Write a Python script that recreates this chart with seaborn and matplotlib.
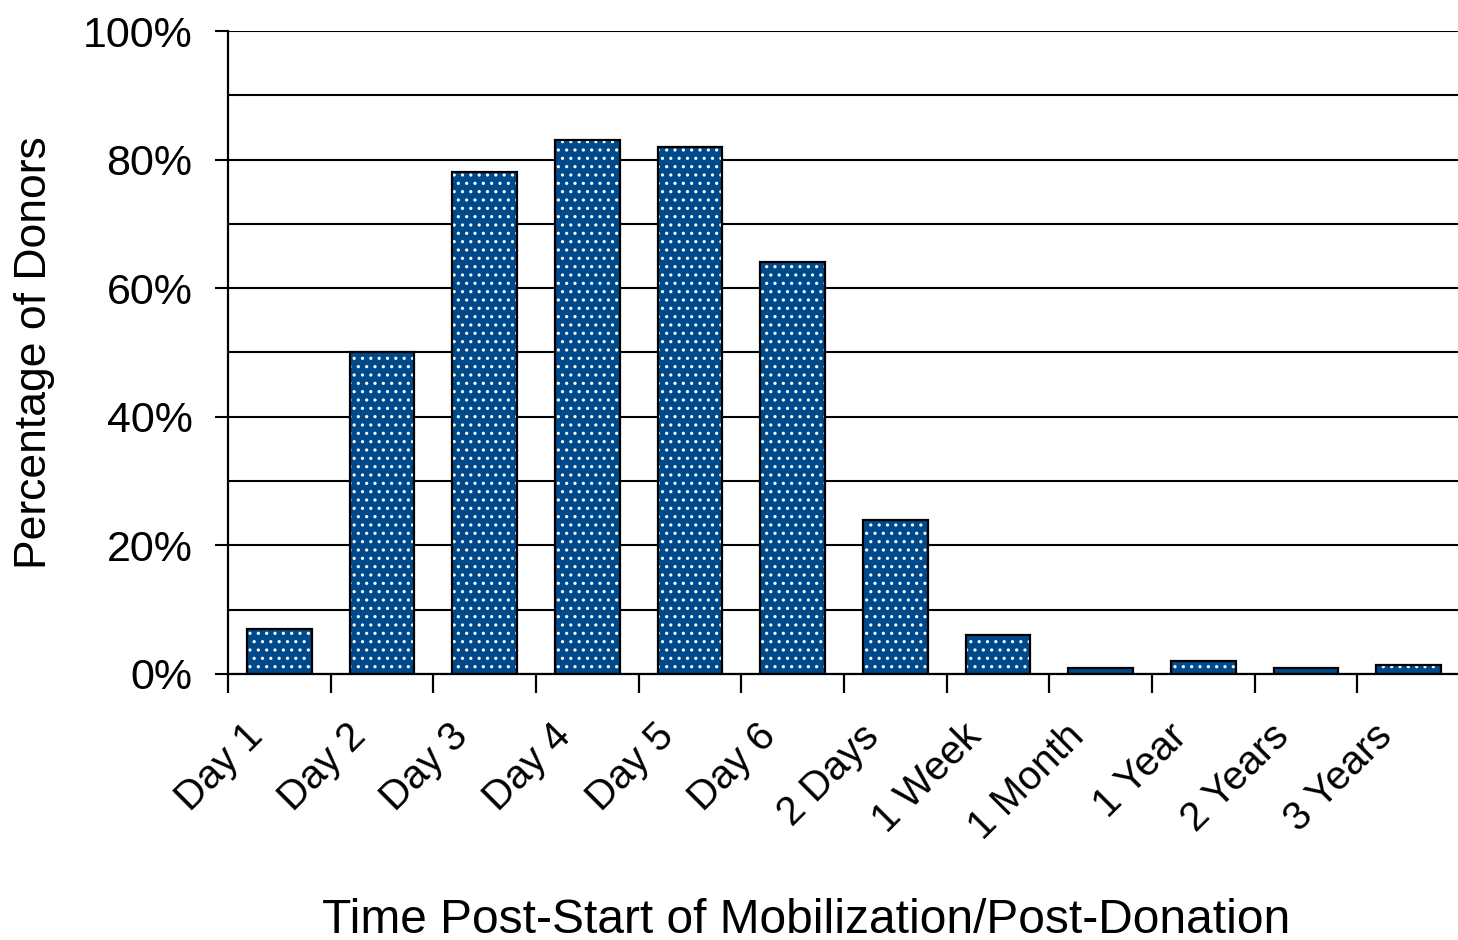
import matplotlib
matplotlib.use("Agg")
import matplotlib.pyplot as plt
from matplotlib.patches import Rectangle
from matplotlib.ticker import MultipleLocator, FixedLocator
from matplotlib.transforms import ScaledTranslation
import seaborn as sns
import pandas as pd

# Share of donors reporting symptoms at each time point
periods = ["Day 1", "Day 2", "Day 3", "Day 4", "Day 5", "Day 6",
           "2 Days", "1 Week", "1 Month", "1 Year", "2 Years", "3 Years"]
percent_donors = [7, 50, 78, 83, 82, 64, 24, 6, 1, 2, 1, 1.4]
y_ticks = [0, 20, 40, 60, 80, 100]
y_tick_labels = ["0%", "20%", "40%", "60%", "80%", "100%"]

df = pd.DataFrame({"period": periods, "pct": percent_donors})

sns.set_style("white")
plt.rcParams["font.family"] = ["Liberation Sans", "DejaVu Sans"]
plt.rcParams["hatch.linewidth"] = 1.1
for key in ["text.color", "axes.labelcolor", "xtick.color", "ytick.color"]:
    plt.rcParams[key] = "black"

fig = plt.figure(figsize=(14.58, 9.40), dpi=100)
ax = fig.add_axes([0.1564, 0.283, 0.845, 0.684])

bar_blue = "#004a8c"
sns.barplot(data=df, x="period", y="pct", order=periods, color=bar_blue,
            width=0.63, saturation=1, ax=ax, zorder=2)

# dotted fill in white, then a black outline on top of every bar
for p in list(ax.patches):
    p.set_hatch("..")
    p.set_edgecolor("white")
    p.set_linewidth(0)
    ax.add_patch(Rectangle((p.get_x(), p.get_y()), p.get_width(), p.get_height(),
                           fill=False, edgecolor="black", linewidth=1.6, zorder=3))

ax.set_xlim(-0.5, 11.5)
ax.set_ylim(0, 100)

# horizontal grid every 10%
ax.yaxis.set_major_locator(FixedLocator(y_ticks))
ax.yaxis.set_minor_locator(MultipleLocator(10))
ax.set_yticklabels(y_tick_labels)
ax.grid(axis="y", which="both", color="black", linewidth=1.5, zorder=0)
ax.set_axisbelow(True)

for side in ["top", "right"]:
    ax.spines[side].set_visible(False)
for side in ["left", "bottom"]:
    ax.spines[side].set_color("black")
    ax.spines[side].set_linewidth(1.6)

ax.tick_params(axis="y", which="major", direction="out", length=9.5, width=1.5,
               labelsize=31, pad=16, color="black", left=True)
ax.tick_params(axis="y", which="minor", length=0)

# category labels at bar centres, tick marks at category boundaries
ax.xaxis.set_minor_locator(FixedLocator([i - 0.5 for i in range(len(periods) + 1)]))
ax.tick_params(axis="x", which="major", length=0, pad=31, labelsize=29)
ax.tick_params(axis="x", which="minor", direction="out", length=14, width=1.6,
               color="black", bottom=True)
shift = ScaledTranslation(-0.36, 0, fig.dpi_scale_trans)
for lab in ax.get_xticklabels():
    lab.set_rotation(45)
    lab.set_ha("right")
    lab.set_va("top")
    lab.set_rotation_mode("anchor")
    lab.set_transform(lab.get_transform() + shift)

ax.set_xlabel("Time Post-Start of Mobilization/Post-Donation", fontsize=34.5)
ax.xaxis.set_label_coords(0.469, -0.348)
ax.set_ylabel("Percentage of Donors", fontsize=32, labelpad=20)

fig.savefig("out.png", dpi=100)
